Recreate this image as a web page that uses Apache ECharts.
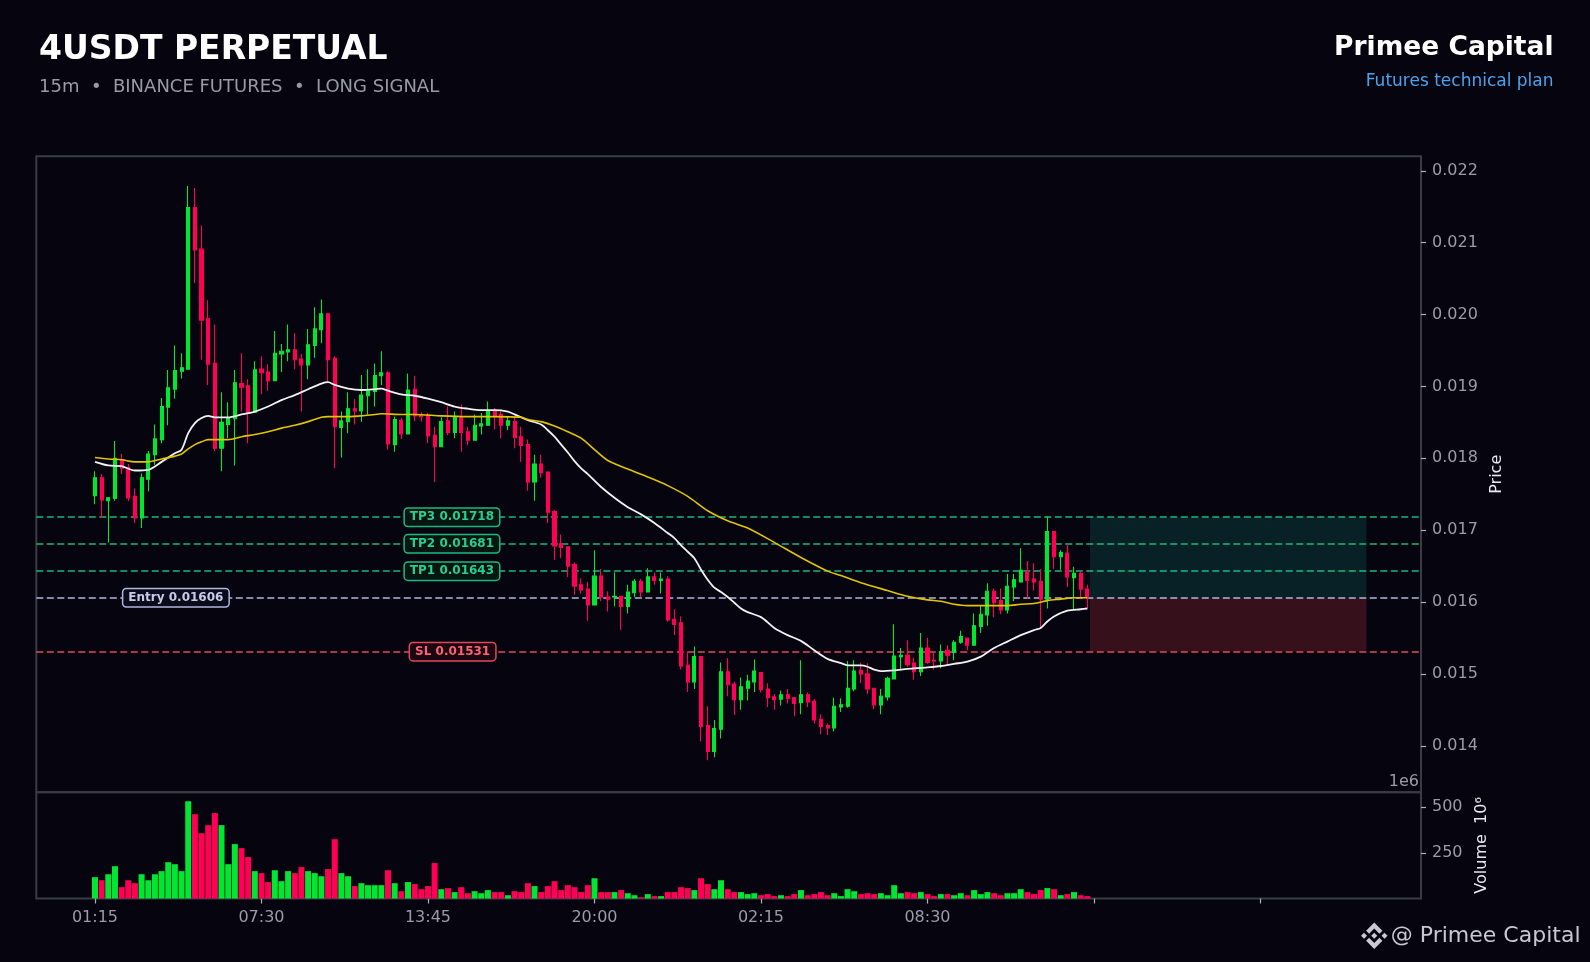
<!DOCTYPE html>
<html>
<head>
<meta charset="utf-8">
<title>4USDT PERPETUAL</title>
<script src="https://cdn.jsdelivr.net/npm/echarts@6/dist/echarts.min.js"></script>
<style>
  html, body { margin: 0; padding: 0; background: #05040f; }
  #chart { width: 1590px; height: 962px; }
</style>
</head>
<body>
<div id="chart"></div>
<script>
// 15m candles, index 0 = 01:15
var opens = [
  0.01748,0.01773,0.01741,0.01744,0.01798,0.01787,0.01747,0.01717,0.01771,0.01805,
  0.01826,0.01871,0.01896,0.01921,0.01924,0.02149,0.02091,0.01994,0.01932,0.01814,
  0.01847,0.01855,0.01904,0.01901,0.01864,0.01924,0.01920,0.01908,0.01945,0.01948,
  0.01951,0.01938,0.01930,0.01957,0.01979,0.02001,0.01939,0.01843,0.01851,0.01869,
  0.01866,0.01887,0.01893,0.01915,0.01919,0.01819,0.01853,0.01834,0.01896,0.01860,
  0.01860,0.01832,0.01816,0.01852,0.01836,0.01857,0.01837,0.01825,0.01845,0.01846,
  0.01865,0.01861,0.01846,0.01851,0.01830,0.01819,0.01767,0.01792,0.01781,0.01726,
  0.01681,0.01677,0.01652,0.01624,0.01618,0.01596,0.01636,0.01607,0.01607,0.01608,
  0.01594,0.01613,0.01629,0.01614,0.01635,0.01630,0.01632,0.01576,0.01571,0.01512,
  0.01489,0.01524,0.01428,0.01392,0.01423,0.01503,0.01486,0.01464,0.01480,0.01489,
  0.01502,0.01479,0.01468,0.01465,0.01471,0.01467,0.01460,0.01471,0.01462,0.01437,
  0.01428,0.01425,0.01454,0.01455,0.01479,0.01505,0.01500,0.01480,0.01457,0.01468,
  0.01493,0.01524,0.01526,0.01515,0.01503,0.01536,0.01519,0.01518,0.01533,0.01530,
  0.01544,0.01550,0.01540,0.01566,0.01582,0.01615,0.01602,0.01589,0.01621,0.01628,
  0.01642,0.01632,0.01629,0.01604,0.01698,0.01663,0.01668,0.01634,0.01640,0.01618
];
var closes = [
  0.01773,0.01742,0.01745,0.01800,0.01786,0.01745,0.01717,0.01773,0.01806,0.01827,
  0.01872,0.01898,0.01922,0.01926,0.02149,0.02090,0.01992,0.01931,0.01814,0.01850,
  0.01856,0.01905,0.01899,0.01863,0.01923,0.01919,0.01908,0.01946,0.01949,0.01951,
  0.01937,0.01930,0.01958,0.01980,0.02001,0.01937,0.01844,0.01852,0.01869,0.01866,
  0.01888,0.01894,0.01915,0.01919,0.01820,0.01854,0.01834,0.01895,0.01859,0.01858,
  0.01831,0.01816,0.01851,0.01836,0.01857,0.01836,0.01825,0.01846,0.01848,0.01865,
  0.01858,0.01846,0.01852,0.01829,0.01818,0.01767,0.01792,0.01780,0.01725,0.01678,
  0.01676,0.01650,0.01622,0.01617,0.01596,0.01636,0.01607,0.01604,0.01608,0.01594,
  0.01614,0.01629,0.01614,0.01635,0.01630,0.01632,0.01575,0.01569,0.01511,0.01489,
  0.01524,0.01427,0.01392,0.01424,0.01503,0.01485,0.01464,0.01482,0.01490,0.01504,
  0.01478,0.01467,0.01464,0.01471,0.01466,0.01459,0.01471,0.01461,0.01436,0.01427,
  0.01425,0.01455,0.01457,0.01480,0.01504,0.01500,0.01479,0.01457,0.01469,0.01494,
  0.01525,0.01526,0.01513,0.01503,0.01536,0.01516,0.01518,0.01531,0.01526,0.01544,
  0.01552,0.01540,0.01567,0.01583,0.01615,0.01599,0.01589,0.01622,0.01631,0.01644,
  0.01630,0.01628,0.01604,0.01698,0.01663,0.01669,0.01635,0.01640,0.01618,0.01607
];
var lows = [
  0.01736,0.01717,0.01683,0.01741,0.01778,0.01741,0.01710,0.01703,0.01754,0.01791,
  0.01821,0.01846,0.01883,0.01911,0.01924,0.02044,0.01937,0.01902,0.01810,0.01782,
  0.01828,0.01790,0.01865,0.01821,0.01863,0.01889,0.01894,0.01908,0.01920,0.01935,
  0.01924,0.01865,0.01910,0.01940,0.01960,0.01907,0.01786,0.01801,0.01835,0.01847,
  0.01851,0.01861,0.01872,0.01902,0.01812,0.01809,0.01827,0.01834,0.01852,0.01851,
  0.01821,0.01767,0.01816,0.01832,0.01828,0.01809,0.01818,0.01825,0.01833,0.01846,
  0.01840,0.01828,0.01839,0.01814,0.01795,0.01755,0.01741,0.01773,0.01710,0.01659,
  0.01661,0.01635,0.01610,0.01612,0.01574,0.01596,0.01601,0.01587,0.01594,0.01561,
  0.01584,0.01607,0.01607,0.01614,0.01624,0.01612,0.01573,0.01554,0.01506,0.01475,
  0.01479,0.01406,0.01380,0.01384,0.01410,0.01469,0.01443,0.01450,0.01463,0.01475,
  0.01474,0.01454,0.01450,0.01456,0.01459,0.01441,0.01444,0.01454,0.01431,0.01416,
  0.01415,0.01420,0.01447,0.01453,0.01476,0.01487,0.01472,0.01451,0.01444,0.01463,
  0.01493,0.01505,0.01510,0.01492,0.01497,0.01514,0.01506,0.01508,0.01512,0.01519,
  0.01542,0.01533,0.01540,0.01557,0.01567,0.01579,0.01583,0.01584,0.01601,0.01628,
  0.01605,0.01616,0.01564,0.01591,0.01646,0.01645,0.01621,0.01590,0.01605,0.01591
];
var highs = [
  0.01782,0.01778,0.01746,0.01824,0.01806,0.01792,0.01758,0.01779,0.01810,0.01847,
  0.01884,0.01923,0.01957,0.01946,0.02179,0.02176,0.02124,0.02020,0.01986,0.01892,
  0.01878,0.01923,0.01946,0.01910,0.01935,0.01942,0.01931,0.01977,0.01959,0.01986,
  0.01974,0.01945,0.01980,0.02010,0.02021,0.02002,0.01942,0.01865,0.01892,0.01883,
  0.01916,0.01924,0.01932,0.01949,0.01921,0.01858,0.01856,0.01918,0.01915,0.01864,
  0.01863,0.01844,0.01857,0.01872,0.01865,0.01875,0.01844,0.01861,0.01863,0.01879,
  0.01870,0.01865,0.01859,0.01858,0.01844,0.01826,0.01805,0.01805,0.01781,0.01728,
  0.01694,0.01677,0.01655,0.01633,0.01628,0.01672,0.01646,0.01615,0.01641,0.01608,
  0.01624,0.01632,0.01632,0.01647,0.01641,0.01641,0.01636,0.01590,0.01580,0.01531,
  0.01538,0.01524,0.01455,0.01436,0.01516,0.01522,0.01489,0.01495,0.01499,0.01520,
  0.01502,0.01487,0.01472,0.01477,0.01479,0.01467,0.01519,0.01474,0.01465,0.01444,
  0.01431,0.01467,0.01466,0.01518,0.01519,0.01516,0.01515,0.01480,0.01479,0.01496,
  0.01569,0.01536,0.01547,0.01523,0.01557,0.01550,0.01530,0.01541,0.01540,0.01547,
  0.01560,0.01550,0.01584,0.01594,0.01626,0.01619,0.01619,0.01639,0.01639,0.01675,
  0.01657,0.01654,0.01646,0.01719,0.01698,0.01672,0.01680,0.01649,0.01642,0.01624
];
// volume, in 1e6
var volumes = [
  117,100,133,177,62,100,84,133,100,133,
  150,199,188,150,533,462,358,402,468,402,
  188,298,276,227,150,139,90,155,95,150,
  139,172,150,139,122,161,325,139,122,68,
  84,73,73,73,155,84,40,90,79,51,
  68,194,51,57,35,62,29,40,29,46,
  35,35,18,40,35,84,68,35,68,95,
  46,73,62,35,73,111,35,35,35,46,
  29,18,7,24,13,13,35,35,62,57,
  46,111,79,51,100,51,35,35,24,29,
  18,24,13,18,13,24,46,18,24,35,
  18,29,13,51,40,24,29,24,29,18,
  73,29,35,29,35,24,13,24,24,18,
  29,18,46,24,35,29,18,29,29,51,
  35,24,46,57,51,18,24,35,18,13
];
// moving averages: [candle index, price]
var maFast = [
  [0,0.01795],[2,0.01790],[4,0.01789],[6,0.01783],[8,0.01784],[10,0.01795],[12,0.01807],
  [13,0.01812],[14,0.01835],[15,0.01849],[16,0.01856],[17,0.01859],[18,0.01857],[20,0.01857],
  [22,0.01861],[24,0.01865],[26,0.01872],[28,0.01881],[30,0.01888],[32,0.01896],[34,0.01904],
  [35,0.01906],[36,0.01902],[38,0.01897],[40,0.01895],[42,0.01896],[43,0.01897],[44,0.01894],
  [46,0.01889],[48,0.01887],[50,0.01883],[52,0.01878],[54,0.01872],[56,0.01869],[58,0.01867],
  [60,0.01867],[62,0.01865],[63,0.01861],[64,0.01857],[65,0.01853],[67,0.01847],[68,0.01839],
  [69,0.01830],[70,0.01819],[71,0.01808],[72,0.01796],[73,0.01786],[74,0.01778],[76,0.01760],
  [78,0.01745],[80,0.01732],[82,0.01722],[84,0.01710],[86,0.01696],[87,0.01689],[88,0.01679],
  [89,0.01670],[90,0.01661],[91,0.01645],[92,0.01631],[93,0.01620],[94,0.01614],[95,0.01607],
  [96,0.01599],[97,0.01591],[98,0.01586],[100,0.01579],[102,0.01564],[104,0.01554],[106,0.01546],
  [108,0.01533],[110,0.01521],[112,0.01515],[113,0.01512],[115,0.01512],[116,0.01510],[117,0.01506],
  [118,0.01504],[120,0.01505],[122,0.01507],[125,0.01509],[127,0.01511],[129,0.01514],[131,0.01517],
  [133,0.01524],[135,0.01536],[137,0.01545],[139,0.01554],[141,0.01561],[142,0.01564],[143,0.01573],
  [144,0.01580],[146,0.01588],[148,0.01590],[149,0.01591]
];
var maSlow = [
  [0,0.01801],[2,0.01799],[4,0.01798],[6,0.01795],[8,0.01795],[10,0.01799],[12,0.01803],
  [13,0.01806],[14,0.01813],[15,0.01819],[16,0.01823],[17,0.01826],[20,0.01826],[22,0.01830],
  [24,0.01833],[26,0.01837],[28,0.01842],[30,0.01846],[32,0.01851],[34,0.01857],[35,0.01858],
  [38,0.01858],[40,0.01859],[42,0.01861],[43,0.01862],[46,0.01861],[48,0.01861],[52,0.01859],
  [56,0.01858],[60,0.01858],[64,0.01857],[65,0.01854],[67,0.01851],[69,0.01845],[71,0.01837],
  [73,0.01828],[75,0.01812],[77,0.01797],[80,0.01785],[83,0.01774],[86,0.01762],[89,0.01747],
  [92,0.01727],[95,0.01713],[98,0.01703],[102,0.01683],[106,0.01662],[110,0.01643],[112,0.01637],
  [115,0.01627],[119,0.01616],[122,0.01608],[125,0.01603],[127,0.01601],[129,0.01597],[131,0.01595],
  [133,0.01595],[135,0.01595],[137,0.01595],[139,0.01597],[141,0.01598],[143,0.01602],[145,0.01604],
  [147,0.01606],[149,0.01606]
];
var levelNames = ['TP3', 'TP2', 'TP1', 'Entry', 'SL'];
var levelPrices = [0.01718, 0.01681, 0.01643, 0.01606, 0.01531];
var priceTicks = [0.014, 0.015, 0.016, 0.017, 0.018, 0.019, 0.020, 0.021, 0.022];
var volumeTicks = [250, 500];
var timeTickIdx = [0, 25, 50, 75, 100, 125, 150, 175];
var timeTickLabels = ['01:15', '07:30', '13:45', '20:00', '02:15', '08:30', '', ''];

var UP = '#00e632', DOWN = '#ff0055';
var FONT = 'DejaVu Sans';
var GREY = '#9c9ca8';
var X_MIN = -8.81, X_MAX = 199.1;

// label styling per level
var levelStyle = {
  TP3:   { line: '#1cb87e', text: '#25d08e', bg: '#061512', x: 53.6 },
  TP2:   { line: '#1cb87e', text: '#25d08e', bg: '#061512', x: 53.6 },
  TP1:   { line: '#1cb87e', text: '#25d08e', bg: '#061512', x: 53.6 },
  Entry: { line: '#b1b6dc', text: '#c8cbea', bg: '#0b0b1c', x: 12.15 },
  SL:    { line: '#e2485c', text: '#ff6275', bg: '#1a0711', x: 53.7 }
};

var candleData = opens.map(function (o, i) {
  return [i, o, closes[i], lows[i], highs[i]];
});
var volumeData = volumes.map(function (v, i) {
  return { value: [i, v], itemStyle: { color: closes[i] >= opens[i] ? UP : DOWN } };
});

var entry = levelPrices[3], sl = levelPrices[4], tp3 = levelPrices[0];
var zoneStart = 149.4, zoneEnd = 190.9;

// binance mark, drawn in a 126.6 unit box
var logoParts = [
  [[38.73,53.2],[63.32,28.62],[87.92,53.22],[102.22,38.91],[63.32,0],[24.42,38.9]],
  [[0,63.31],[14.3,49],[28.61,63.31],[14.3,77.61]],
  [[38.73,73.41],[63.32,98],[87.92,73.4],[102.23,87.69],[63.33,126.6],[24.42,87.72]],
  [[97.99,63.31],[112.29,49],[126.61,63.31],[112.3,77.61]],
  [[77.83,63.3],[63.32,48.78],[48.81,63.28],[63.32,77.78]]
];
var logoScale = 26.5 / 126.61;

var myChart = echarts.init(document.getElementById('chart'));

option = {
  backgroundColor: '#05040f',
  animation: false,
  textStyle: { fontFamily: FONT },
  grid: [
    { left: 36.3, right: 169, top: 156.2, height: 636.1, show: true,
      borderColor: '#3b3b47', borderWidth: 2, backgroundColor: 'transparent' },
    { left: 36.3, right: 169, top: 792.3, height: 106.2, show: true,
      borderColor: '#3b3b47', borderWidth: 2, backgroundColor: 'transparent' }
  ],
  xAxis: [
    { type: 'value', gridIndex: 0, min: X_MIN, max: X_MAX, show: false, splitLine: { show: false },
      axisLine: { onZero: false } },
    { type: 'value', gridIndex: 1, min: X_MIN, max: X_MAX,
      splitLine: { show: false },
      axisLine: { show: false, onZero: false },
      axisTick: { show: true, customValues: timeTickIdx, length: 5, lineStyle: { color: '#b0b0ba', width: 1.2 } },
      axisLabel: {
        customValues: timeTickIdx, color: GREY, fontSize: 16, margin: 11, fontFamily: FONT,
        formatter: function (v) {
          var k = timeTickIdx.indexOf(Math.round(v));
          return k >= 0 ? timeTickLabels[k] : '';
        }
      }
    }
  ],
  yAxis: [
    { type: 'value', gridIndex: 0, position: 'right', min: 0.013353, max: 0.022203,
      splitLine: { show: false },
      axisLine: { show: false, onZero: false },
      axisTick: { show: true, customValues: priceTicks, length: 5, lineStyle: { color: '#b0b0ba', width: 1.2 } },
      axisLabel: { customValues: priceTicks, color: GREY, fontSize: 16, margin: 11, fontFamily: FONT,
        formatter: function (v) { return v.toFixed(3); } },
      name: 'Price', nameLocation: 'middle', nameRotate: 90, nameGap: 66,
      nameTextStyle: { color: '#e8e8ee', fontSize: 16, fontFamily: FONT }
    },
    { type: 'value', gridIndex: 1, position: 'right', min: 0, max: 582,
      splitLine: { show: false },
      axisLine: { show: false, onZero: false },
      axisTick: { show: true, customValues: volumeTicks, length: 5, lineStyle: { color: '#b0b0ba', width: 1.2 } },
      axisLabel: { customValues: volumeTicks, color: GREY, fontSize: 16, margin: 11, fontFamily: FONT },
      name: 'Volume  10\u2076', nameLocation: 'middle', nameRotate: 90, nameGap: 53,
      nameTextStyle: { color: '#e8e8ee', fontSize: 16, fontFamily: FONT }
    }
  ],
  series: [
    {
      name: 'candles',
      type: 'candlestick',
      xAxisIndex: 0, yAxisIndex: 0,
      z: 3,
      barWidth: 3.6,
      encode: { x: 0, y: [1, 2, 3, 4] },
      itemStyle: { color: UP, color0: DOWN, borderColor: UP, borderColor0: DOWN, borderWidth: 1.1 },
      data: candleData,
      markArea: {
        silent: true,
        z: 1,
        data: [
          [{ coord: [zoneStart, entry], itemStyle: { color: '#072127' } }, { coord: [zoneEnd, tp3] }],
          [{ coord: [zoneStart, sl], itemStyle: { color: '#36111c' } }, { coord: [zoneEnd, entry] }]
        ]
      },
      markLine: {
        silent: true,
        z: 2,
        symbol: ['none', 'none'],
        label: { show: false },
        data: levelNames.map(function (n, k) {
          var ls = { color: levelStyle[n].line, type: [7, 3.5], width: 1.5 };
          return [
            { coord: [X_MIN, levelPrices[k]], lineStyle: ls },
            { coord: [X_MAX, levelPrices[k]] }
          ];
        })
      },
      markPoint: {
        silent: true,
        z: 10,
        data: levelNames.map(function (n, k) {
          var s = levelStyle[n];
          return {
            coord: [s.x, levelPrices[k]],
            symbol: 'rect', symbolSize: 1,
            itemStyle: { color: 'transparent' },
            label: {
              show: true, position: 'inside',
              formatter: n + ' ' + levelPrices[k].toFixed(5),
              color: s.text, backgroundColor: s.bg,
              borderColor: s.line, borderWidth: 1.5, borderRadius: 3,
              padding: [3, 5, 2, 5],
              fontFamily: FONT, fontWeight: 'bold', fontSize: 12
            }
          };
        })
      }
    },
    {
      name: 'MA fast',
      type: 'line',
      xAxisIndex: 0, yAxisIndex: 0,
      z: 4,
      smooth: 0.3,
      showSymbol: false,
      lineStyle: { color: '#f2f2f4', width: 1.8 },
      data: maFast
    },
    {
      name: 'MA slow',
      type: 'line',
      xAxisIndex: 0, yAxisIndex: 0,
      z: 4,
      smooth: 0.3,
      showSymbol: false,
      lineStyle: { color: '#e2c400', width: 1.6 },
      data: maSlow
    },
    {
      name: 'Volume',
      type: 'bar',
      xAxisIndex: 1, yAxisIndex: 1,
      barWidth: 6,
      data: volumeData
    }
  ],
  graphic: [
    { type: 'text', left: 39, top: 34, style: { text: '4USDT PERPETUAL', fill: '#ffffff',
      fontSize: 33, fontWeight: 'bold', fontFamily: FONT } },
    { type: 'text', left: 39, top: 78.5, style: { text: '15m  \u2022  BINANCE FUTURES  \u2022  LONG SIGNAL',
      fill: '#9a9aa6', fontSize: 18, fontFamily: FONT } },
    { type: 'text', right: 36.5, top: 34.5, style: { text: 'Primee Capital', fill: '#ffffff',
      fontSize: 26.5, fontWeight: 'bold', fontFamily: FONT } },
    { type: 'text', right: 36.5, top: 73.5, style: { text: 'Futures technical plan', fill: '#4aa3ef',
      fontSize: 17, fontFamily: FONT } },
    { type: 'text', right: 171, top: 774, style: { text: '1e6', fill: GREY, fontSize: 16, fontFamily: FONT } },
    { type: 'group', x: 1361, y: 922.5, scaleX: logoScale, scaleY: logoScale,
      children: logoParts.map(function (pts) {
        return { type: 'polygon', shape: { points: pts }, style: { fill: '#c9c9d1' } };
      }) },
    { type: 'text', right: 9.5, top: 925.5, style: { text: '@ Primee Capital', fill: '#c8c8d0',
      fontSize: 22, fontFamily: FONT } }
  ]
};

myChart.setOption(option);
</script>
</body>
</html>
